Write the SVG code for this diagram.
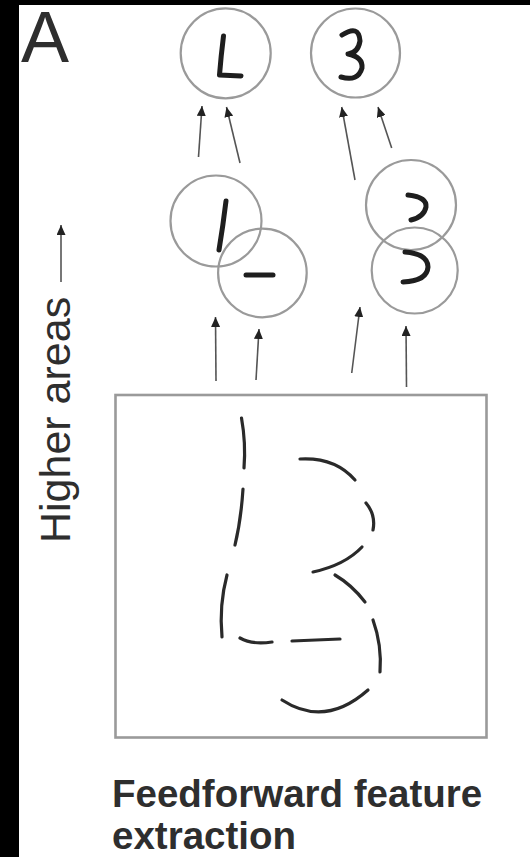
<svg xmlns="http://www.w3.org/2000/svg" width="530" height="857" viewBox="0 0 530 857">
<style>
.node circle{fill:none;stroke:#9a9a9a;stroke-width:2.2}
.glyph{fill:none;stroke:#1e1e1e;stroke-width:5;stroke-linecap:round;stroke-linejoin:round}
.conn line{stroke:#555;stroke-width:1.6;marker-end:url(#ah)}
.seg{fill:none;stroke:#2a2a2a;stroke-width:3.2;stroke-linecap:round}
.lbl{font-family:"Liberation Sans",Arial,sans-serif;fill:#2e2e2e}
</style>
<defs>
<marker id="ah" markerUnits="userSpaceOnUse" markerWidth="10" markerHeight="9" refX="10" refY="4.5" orient="auto">
<path d="M0,0 L10,4.5 L0,9 z" fill="#222"/>
</marker>
</defs>
<rect x="0" y="0" width="530" height="857" fill="#fff"/>
<rect x="0" y="0" width="19" height="857" fill="#000"/>
<rect x="0" y="0" width="530" height="5" fill="#000"/>
<text class="lbl" x="21" y="62" font-size="72" fill="#1e1e1e">A</text>
<g id="label-higher">
<text class="lbl" transform="translate(70,543) rotate(-90)" font-size="43">Higher areas</text>
<line x1="61" y1="282" x2="61" y2="225" stroke="#555" stroke-width="1.6" marker-end="url(#ah)"/>
</g>
<g id="node-L" class="node">
<circle cx="225.7" cy="53.3" r="45"/>
<path class="glyph" d="M223.5 36 Q221 56 219.5 75 L241 76"/>
</g>
<g id="node-3" class="node">
<circle cx="355.5" cy="53" r="44.5"/>
<path class="glyph" d="M342 35 Q359 24 360 41 Q358 53 348 54 Q363 57 362 68 Q358 82 341 77"/>
</g>
<g id="node-1" class="node">
<circle cx="216" cy="221" r="45.5"/>
<path class="glyph" d="M226 201 Q223 226 219 250"/>
</g>
<g id="node-dash" class="node">
<circle cx="262.4" cy="273" r="44.3"/>
<path class="glyph" d="M246 275 L273 275" stroke-width="5.5"/>
</g>
<g id="node-c1" class="node">
<circle cx="411" cy="205" r="45"/>
<path class="glyph" d="M408 195 Q427 197 426 207 Q424 217 411 220"/>
</g>
<g id="node-c2" class="node">
<circle cx="414.7" cy="270.5" r="43"/>
<path class="glyph" d="M405 252 Q428 254 428 267 Q427 281 403 282"/>
</g>
<g id="connectors" class="conn">
<line x1="198.5" y1="157" x2="202" y2="106"/>
<line x1="240" y1="163" x2="226.5" y2="107"/>
<line x1="355" y1="180" x2="341.7" y2="107"/>
<line x1="391.7" y1="148" x2="378" y2="107"/>
<line x1="216" y1="381" x2="215.5" y2="317"/>
<line x1="256" y1="380" x2="259" y2="329"/>
<line x1="351.7" y1="373" x2="360" y2="307"/>
<line x1="406.5" y1="387" x2="406" y2="326"/>
</g>
<g id="input-image">
<rect x="115.5" y="395" width="371" height="342.5" fill="none" stroke="#9a9a9a" stroke-width="2.6"/>
<path class="seg" d="M241.5 418 Q246 443 244 468"/>
<path class="seg" d="M243 489 Q241 520 235 545"/>
<path class="seg" d="M227 575 Q219 605 222 637"/>
<path class="seg" d="M300 459 Q335 457 355 480"/>
<path class="seg" d="M366 503 Q376 515 373 530"/>
<path class="seg" d="M362 547 Q345 565 313 572"/>
<path class="seg" d="M335 575 Q352 585 365 602"/>
<path class="seg" d="M373 620 Q382 645 380 672"/>
<path class="seg" d="M368 690 Q325 728 282 700"/>
<path class="seg" d="M240 638 Q252 645 272 642"/>
<path class="seg" d="M292 641 L340 639"/>
</g>
<g id="caption">
<text class="lbl" x="112" y="807" font-size="38.5" font-weight="bold">Feedforward feature</text>
<text class="lbl" x="112" y="849" font-size="38.5" font-weight="bold">extraction</text>
</g>
</svg>
